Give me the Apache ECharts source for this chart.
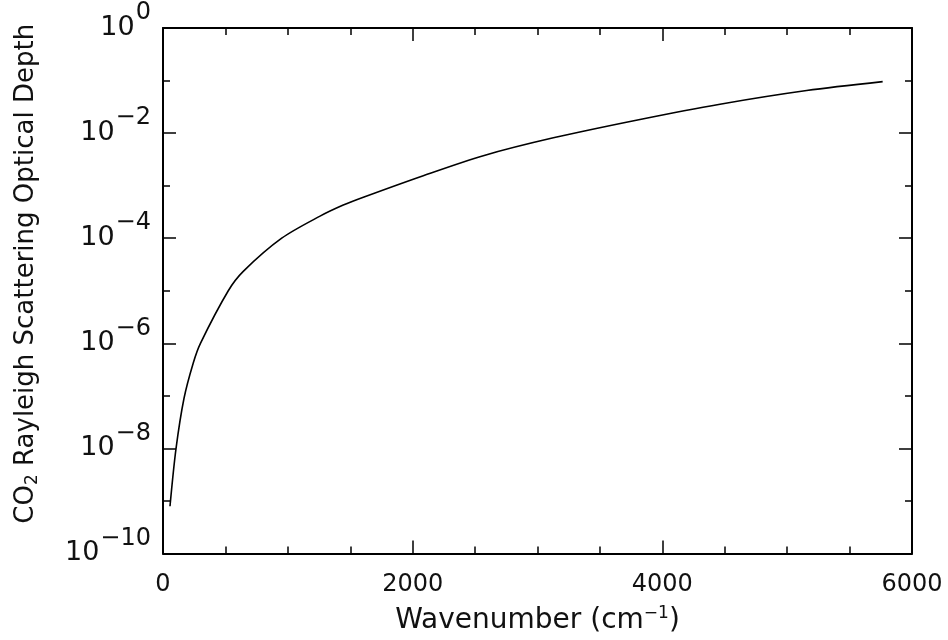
<!DOCTYPE html>
<html>
<head>
<meta charset="utf-8">
<script src="https://cdn.jsdelivr.net/npm/echarts@6/dist/echarts.min.js"></script>
<style>html,body{margin:0;padding:0;background:#fff}#c{width:948px;height:640px}</style>
</head>
<body>
<div id="c"></div>
<script>
// Data
const wavenumber = [56, 104, 168, 243, 300, 523, 643, 951, 1258, 1444, 1605, 2085, 2566, 3127, 3821, 4462, 5156, 5765];
const opticalDepth = [7.94e-10, 9.77e-9, 8.91e-8, 4.27e-7, 1.0e-6, 1.0e-5, 2.34e-5, 1.0e-4, 2.63e-4, 4.27e-4, 6.03e-4, 1.55e-3, 3.72e-3, 8.13e-3, 1.82e-2, 3.55e-2, 6.46e-2, 9.55e-2];
const xTickLabels = ['0', '2000', '4000', '6000'];
const yExponents = [0, -2, -4, -6, -8, -10];

const FONT = 'DejaVu Sans';
const chart = echarts.init(document.getElementById('c'), null, {renderer: 'canvas'});
const pts = wavenumber.map((w, i) => [w, opticalDepth[i]]);

function expLabel(v) {
  const e = Math.round(Math.log10(v));
  if (yExponents.indexOf(e) < 0) return '';
  const s = e < 0 ? '\u2212' + (-e) : String(e);
  return '{b|10}{s|' + s + '}';
}

const tickStyle = {color: '#000', width: 1.5};
const logCommon = {type: 'log', logBase: 10, min: 1e-10, max: 1, splitLine: {show: false}};

chart.setOption({
  animation: false,
  backgroundColor: '#fff',
  grid: {left: 163, right: 36, top: 28, bottom: 82, containLabel: false},
  xAxis: [
    {
      type: 'value', min: 0, max: 6000, interval: 2000, position: 'bottom',
      name: '{n|Wavenumber (cm}{s|\u22121}{n|)}', nameLocation: 'middle', nameGap: 52,
      nameTextStyle: {rich: {
        n: {fontFamily: FONT, fontSize: 28, color: '#111'},
        s: {fontFamily: FONT, fontSize: 17, color: '#111', verticalAlign: 'top', padding: [0, 0, 14, 0]}
      }},
      axisLine: {show: true, lineStyle: {color: '#000', width: 2}},
      axisTick: {show: true, inside: true, length: 13, lineStyle: tickStyle},
      minorTick: {show: true, splitNumber: 4, length: 7, lineStyle: tickStyle},
      axisLabel: {
        margin: 19, fontFamily: FONT, fontSize: 24, color: '#111',
        formatter: v => xTickLabels[Math.round(v / 2000)]
      },
      splitLine: {show: false}
    },
    {
      type: 'value', min: 0, max: 6000, interval: 2000, position: 'top',
      axisLine: {show: true, lineStyle: {color: '#000', width: 2}},
      axisTick: {show: true, inside: true, length: 13, lineStyle: tickStyle},
      minorTick: {show: true, splitNumber: 4, length: 7, lineStyle: tickStyle},
      axisLabel: {show: false},
      splitLine: {show: false}
    }
  ],
  yAxis: [
    Object.assign({}, logCommon, {
      position: 'left', interval: 2,
      name: '{n|CO}{sub|2}{n| Rayleigh Scattering Optical Depth}',
      nameLocation: 'middle', nameGap: 122, nameRotate: 90,
      nameTextStyle: {padding: [0, 0, 0, 34], rich: {
        n: {fontFamily: FONT, fontSize: 26, color: '#111'},
        sub: {fontFamily: FONT, fontSize: 17, color: '#111', verticalAlign: 'bottom', padding: [12, 0, 0, 0]}
      }},
      axisLine: {show: true, lineStyle: {color: '#000', width: 2}},
      axisTick: {show: true, inside: true, length: 13, lineStyle: tickStyle},
      axisLabel: {
        margin: 12, formatter: expLabel,
        rich: {
          b: {fontFamily: FONT, fontSize: 27, color: '#111', verticalAlign: 'bottom', padding: [0, 1, 14, 0]},
          s: {fontFamily: FONT, fontSize: 24, color: '#111', verticalAlign: 'top', padding: [0, 0, 30, 0]}
        }
      }
    }),
    Object.assign({}, logCommon, {
      position: 'left', interval: 1,
      axisLine: {show: false},
      axisTick: {show: true, inside: true, length: 7, lineStyle: tickStyle},
      axisLabel: {show: false}
    }),
    Object.assign({}, logCommon, {
      position: 'right', interval: 2,
      axisLine: {show: true, lineStyle: {color: '#000', width: 2}},
      axisTick: {show: true, inside: true, length: 13, lineStyle: tickStyle},
      axisLabel: {show: false}
    }),
    Object.assign({}, logCommon, {
      position: 'right', interval: 1,
      axisLine: {show: false},
      axisTick: {show: true, inside: true, length: 7, lineStyle: tickStyle},
      axisLabel: {show: false}
    })
  ],
  series: [{
    type: 'line', xAxisIndex: 0, yAxisIndex: 0,
    data: pts, showSymbol: false, smooth: 0.3,
    lineStyle: {color: '#000', width: 1.6}
  }]
});
</script>
</body>
</html>
